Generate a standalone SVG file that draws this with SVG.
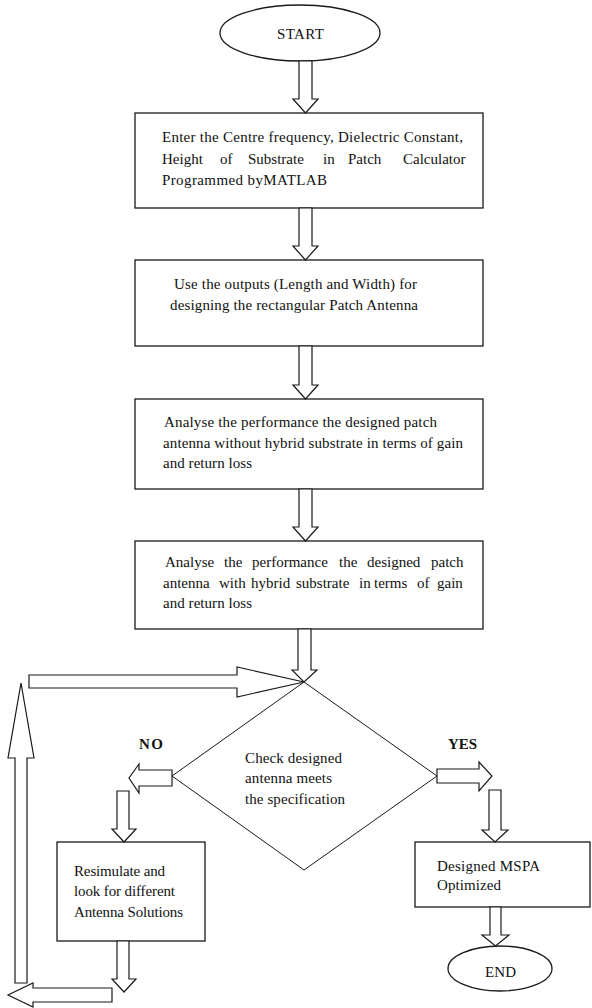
<svg xmlns="http://www.w3.org/2000/svg" width="592" height="1008" viewBox="0 0 592 1008">
<style>
.bg{fill:#ffffff}
.box{fill:#ffffff;stroke:#1a1a1a;stroke-width:1.3}
.dia{fill:#ffffff;stroke:#1a1a1a;stroke-width:1}
.arr{fill:#ffffff;stroke:#1a1a1a;stroke-width:1.2;stroke-linejoin:miter}
.t{font-family:"Liberation Serif","Times New Roman",serif;font-size:15px;fill:#111111}
.b{font-family:"Liberation Serif","Times New Roman",serif;font-size:15px;font-weight:bold;fill:#111111}
</style>
<rect class="bg" x="0" y="0" width="592" height="1008"/>

<g id="start">
<ellipse class="box" cx="300" cy="33" rx="80" ry="28"/>
<text class="t" x="277" y="39" textLength="47" lengthAdjust="spacing">START</text>
</g>

<g id="box1">
<rect class="box" x="135" y="113" width="348" height="95"/>
<text class="t" x="162" y="142" textLength="301" lengthAdjust="spacing">Enter the Centre frequency, Dielectric Constant,</text>
<text class="t" y="163.5"><tspan x="162">Height</tspan><tspan x="220">of</tspan><tspan x="248">Substrate</tspan><tspan x="323">in</tspan><tspan x="348">Patch</tspan><tspan x="403">Calculator</tspan></text>
<text class="t" x="162" y="185" textLength="165" lengthAdjust="spacing">Programmed byMATLAB</text>
</g>

<g id="box2">
<rect class="box" x="135" y="260" width="348" height="86"/>
<text class="t" x="174" y="289" textLength="243" lengthAdjust="spacing">Use the outputs (Length and Width) for</text>
<text class="t" x="170" y="310" textLength="248" lengthAdjust="spacing">designing the rectangular Patch Antenna</text>
</g>

<g id="box3">
<rect class="box" x="135" y="399" width="348" height="90"/>
<text class="t" x="164" y="427" textLength="273" lengthAdjust="spacing">Analyse the performance the designed patch</text>
<text class="t" x="163" y="447.5" textLength="300" lengthAdjust="spacing">antenna without hybrid substrate in terms of gain</text>
<text class="t" x="163" y="468" textLength="89" lengthAdjust="spacing">and return loss</text>
</g>

<g id="box4">
<rect class="box" x="135" y="541" width="348" height="88"/>
<text class="t" y="567"><tspan x="165">Analyse</tspan><tspan x="224">the</tspan><tspan x="252">performance</tspan><tspan x="339">the</tspan><tspan x="367">designed</tspan><tspan x="431">patch</tspan></text>
<text class="t" y="587.5"><tspan x="163">antenna</tspan><tspan x="219">with</tspan><tspan x="251">hybrid</tspan><tspan x="296">substrate</tspan><tspan x="359">in</tspan><tspan x="374">terms</tspan><tspan x="417">of</tspan><tspan x="437">gain</tspan></text>
<text class="t" x="163" y="608" textLength="89" lengthAdjust="spacing">and return loss</text>
</g>

<g id="decision">
<polygon class="dia" points="304,682 437,776 304,870 172,776"/>
<text class="t" x="245" y="762.5" textLength="97" lengthAdjust="spacing">Check designed</text>
<text class="t" x="245" y="783" textLength="87" lengthAdjust="spacing">antenna meets</text>
<text class="t" x="245" y="803.5" textLength="100" lengthAdjust="spacing">the specification</text>
</g>

<g id="label-no">
<text class="b" x="139" y="749" textLength="24" lengthAdjust="spacing">NO</text>
</g>
<g id="label-yes">
<text class="b" x="448" y="749" textLength="29" lengthAdjust="spacing">YES</text>
</g>

<g id="resimulate">
<rect class="box" x="57" y="842" width="148" height="99"/>
<text class="t" x="74" y="875.5" textLength="91" lengthAdjust="spacing">Resimulate and</text>
<text class="t" x="74" y="896" textLength="101" lengthAdjust="spacing">look for different</text>
<text class="t" x="74" y="916.5" textLength="109" lengthAdjust="spacing">Antenna Solutions</text>
</g>

<g id="optimized">
<rect class="box" x="415" y="842" width="175" height="65"/>
<text class="t" x="437" y="870.5" textLength="103" lengthAdjust="spacing">Designed MSPA</text>
<text class="t" x="437" y="890" textLength="64" lengthAdjust="spacing">Optimized</text>
</g>

<g id="end">
<ellipse class="box" cx="500" cy="968.5" rx="52" ry="22.5"/>
<text class="t" x="485" y="977" textLength="31" lengthAdjust="spacing">END</text>
</g>

<g id="connectors">
<polygon class="arr" points="299,61 312,61 312,99 318,99 305.5,113 293,99 299,99"/>
<polygon class="arr" points="299,208 312,208 312,246 318,246 305.5,260 293,246 299,246"/>
<polygon class="arr" points="299,346 312,346 312,385 318,385 305.5,399 293,385 299,385"/>
<polygon class="arr" points="299,489 312,489 312,527 318,527 305.5,541 293,527 299,527"/>
<polygon class="arr" points="298,629 311,629 311,670 317,670 304,682 292,670 298,670"/>
<polygon class="arr" points="29,675 237,675 237,667 304,682 237,697 237,688 29,688"/>
<polygon class="arr" points="15,983 15,758 8,758 21,683 34,758 27,758 27,983"/>
<polygon class="arr" points="112,988 33,988 33,983 8,995 33,1007 33,1002 112,1002"/>
<polygon class="arr" points="172,770 139,770 139,764 129,778 139,793 139,786 172,786"/>
<polygon class="arr" points="437,769 479,769 479,762 492,776 479,791 479,783 437,783"/>
<polygon class="arr" points="117,791 129,791 129,829 136,829 124,842 112,829 117,829"/>
<polygon class="arr" points="489,790 501,790 501,830 508,830 495,842 482,830 489,830"/>
<polygon class="arr" points="117,941 129,941 129,979 136,979 124,992 112,979 117,979"/>
<polygon class="arr" points="490,907 501,907 501,935 509,935 495.5,946 482,935 490,935"/>
</g>
</svg>
